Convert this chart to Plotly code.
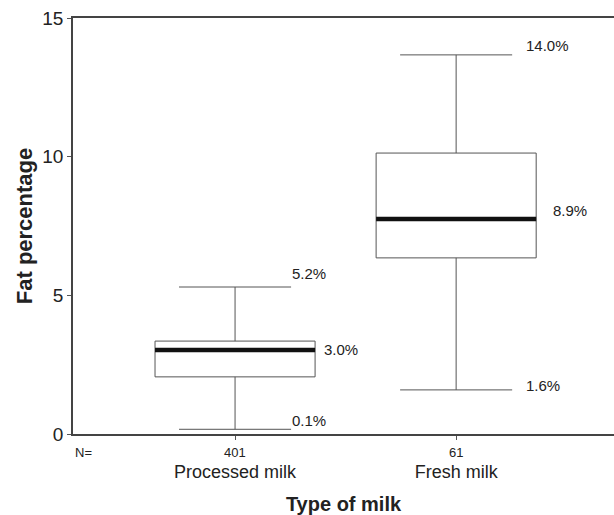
import plotly.graph_objects as go

# ---- data ----
categories = ["Processed milk", "Fresh milk"]
n_counts = ["401", "61"]
lower_fence = [0.17, 1.59]
q1_vals = [2.06, 6.35]
median_vals = [3.03, 7.75]
q3_vals = [3.35, 10.13]
upper_fence = [5.30, 13.67]
upper_labels = ["5.2%", "14.0%"]
median_labels = ["3.0%", "8.9%"]
lower_labels = ["0.1%", "1.6%"]
y_ticks = [0, 5, 10, 15]

# ---- style ----
positions = [0, 1]
box_w = 0.724
whisk = 0.7
line_col = "#555555"
font_fam = "Arial, Liberation Sans, Helvetica, sans-serif"

fig = go.Figure()
for i, cat in enumerate(categories):
    fig.add_trace(go.Box(
        x=[positions[i]], q1=[q1_vals[i]], median=[median_vals[i]], q3=[q3_vals[i]],
        lowerfence=[lower_fence[i]], upperfence=[upper_fence[i]],
        width=box_w, whiskerwidth=whisk, boxpoints=False,
        fillcolor="white", line=dict(color=line_col, width=1),
        name=cat, showlegend=False, hoverinfo="skip",
    ))
    # thick median line
    fig.add_trace(go.Scatter(
        x=[positions[i] - box_w / 2, positions[i] + box_w / 2],
        y=[median_vals[i], median_vals[i]],
        mode="lines", line=dict(color="#111111", width=4.5),
        showlegend=False, hoverinfo="skip",
    ))

# per-label pixel nudges (style)
up_dx = [-1, 12]
up_dy = [14, 9]
md_dx = [7, 15]
md_dy = [0, 9]
lo_dx = [-1, 12]
lo_dy = [9, 4]

annots = []
for i in range(len(categories)):
    cap_end = positions[i] + box_w * whisk / 2
    box_end = positions[i] + box_w / 2
    for txt, yv, dx, dy, xe in [
        (upper_labels[i], upper_fence[i], up_dx[i], up_dy[i], cap_end),
        (median_labels[i], median_vals[i], md_dx[i], md_dy[i], box_end),
        (lower_labels[i], lower_fence[i], lo_dx[i], lo_dy[i], cap_end),
    ]:
        annots.append(dict(x=xe, y=yv, xref="x", yref="y", text=txt, showarrow=False,
                           xanchor="left", yanchor="middle", xshift=dx, yshift=dy,
                           font=dict(size=15, color="#222222", family=font_fam)))
    annots.append(dict(x=positions[i], y=0, xref="x", yref="paper", text=n_counts[i],
                       showarrow=False, xanchor="center", yanchor="middle", yshift=-18,
                       font=dict(size=13, color="#222222", family=font_fam)))
annots.append(dict(x=0, y=0, xref="paper", yref="paper", text="N=", showarrow=False,
                   xanchor="left", yanchor="middle", yshift=-18,
                   font=dict(size=13, color="#222222", family=font_fam)))

fig.update_layout(
    width=614, height=515,
    margin=dict(l=73, r=0, t=18, b=81, autoexpand=False),
    paper_bgcolor="white", plot_bgcolor="white",
    font=dict(family=font_fam, color="#222222"),
    annotations=annots,
    xaxis=dict(
        range=[-0.733, 1.714], tickvals=positions, ticktext=categories,
        tickfont=dict(size=18, color="#222222"),
        ticks="outside", ticklen=4, tickcolor=line_col,
        ticklabelstandoff=17, automargin=False,
        showline=True, linecolor="#444444", linewidth=1.5, mirror=True,
        showgrid=False, zeroline=False,
        title=dict(text="<b>Type of milk</b>", font=dict(size=20, color="#222222"), standoff=17),
    ),
    yaxis=dict(
        range=[0, 15], tickvals=y_ticks, automargin=False,
        tickfont=dict(size=19, color="#222222"),
        ticks="outside", ticklen=4, tickcolor=line_col,
        showline=True, linecolor="#444444", linewidth=1.5, mirror=False,
        showgrid=False, zeroline=False,
        title=dict(text="<b>Fat percentage</b>", font=dict(size=22, color="#222222"), standoff=4),
    ),
)

fig.write_html("out.html", config={"displayModeBar": False},
               post_script="document.body.style.margin='0';document.body.style.overflow='hidden';")
